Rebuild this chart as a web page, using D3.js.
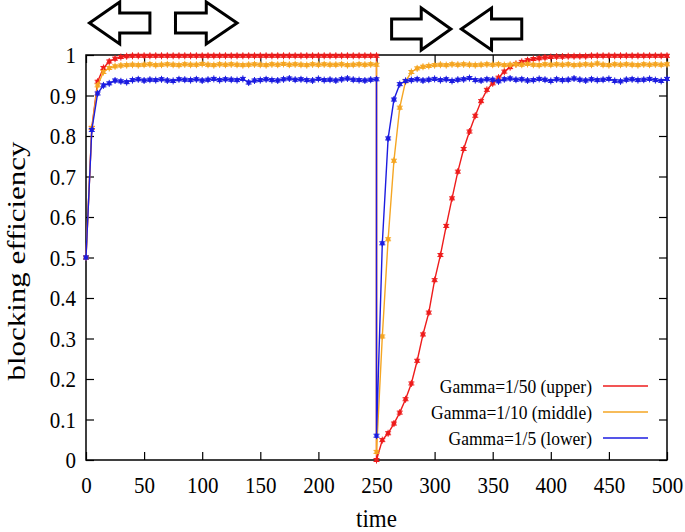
<html>
<head>
    <title>blocking efficiency</title>
    <script src="https://d3js.org/d3.v7.min.js"></script>
    <style>
        body { margin: 0; background: #fff; }
        text { font-family: "Liberation Serif", "DejaVu Serif", serif; fill: #000; }
    </style>
</head>
<body>
    <svg id="chart"></svg>
    <script>
        // sampled every 5 time units; the switch at t=250 is sampled twice (before / after)
        var timeA = d3.range(0, 251, 5);
        var timeB = d3.range(250, 501, 5);

        var redA = [0.5, 0.82, 0.934, 0.968, 0.984, 0.991, 0.995, 0.997, 0.998, 0.998,
            0.998, 0.998, 0.998, 0.998, 0.998, 0.998, 0.998, 0.998, 0.998, 0.998,
            0.998, 0.998, 0.998, 0.998, 0.998, 0.998, 0.998, 0.998, 0.998, 0.998,
            0.998, 0.998, 0.998, 0.998, 0.998, 0.998, 0.998, 0.998, 0.998, 0.998,
            0.998, 0.998, 0.998, 0.998, 0.998, 0.998, 0.998, 0.998, 0.998, 0.998, 0.998];
        var redB = [0, 0.049, 0.066, 0.09, 0.117, 0.15, 0.189, 0.245, 0.31, 0.364,
            0.444, 0.506, 0.578, 0.646, 0.712, 0.768, 0.811, 0.85, 0.886, 0.914,
            0.93, 0.944, 0.959, 0.97, 0.978, 0.983, 0.987, 0.99, 0.992, 0.994,
            0.995, 0.996, 0.996, 0.997, 0.997, 0.997, 0.997, 0.998, 0.998, 0.998,
            0.998, 0.998, 0.998, 0.998, 0.998, 0.998, 0.998, 0.998, 0.998, 0.998, 0.998];

        var orangeA = [0.5, 0.82, 0.925, 0.958, 0.968, 0.972, 0.974, 0.975, 0.976, 0.975,
            0.976, 0.977, 0.975, 0.976, 0.977, 0.976, 0.975, 0.977, 0.976, 0.976,
            0.978, 0.976, 0.975, 0.977, 0.976, 0.977, 0.976, 0.975, 0.976, 0.977,
            0.976, 0.975, 0.977, 0.976, 0.978, 0.976, 0.977, 0.976, 0.975, 0.977,
            0.976, 0.977, 0.976, 0.976, 0.977, 0.975, 0.976, 0.977, 0.976, 0.977, 0.976];
        var orangeB = [0.02, 0.305, 0.545, 0.739, 0.87, 0.935, 0.958, 0.967, 0.971, 0.973,
            0.975, 0.976, 0.975, 0.977, 0.976, 0.977, 0.976, 0.975, 0.976, 0.977,
            0.976, 0.977, 0.975, 0.976, 0.977, 0.976, 0.978, 0.976, 0.975, 0.977,
            0.976, 0.977, 0.976, 0.977, 0.975, 0.976, 0.977, 0.976, 0.979, 0.976,
            0.975, 0.977, 0.976, 0.977, 0.976, 0.975, 0.977, 0.976, 0.977, 0.976, 0.977];

        var blueA = [0.5, 0.815, 0.905, 0.925, 0.93, 0.937, 0.935, 0.933, 0.938, 0.94,
            0.937, 0.939, 0.938, 0.94, 0.937, 0.936, 0.94, 0.939, 0.938, 0.94,
            0.937, 0.939, 0.941, 0.938, 0.94, 0.939, 0.938, 0.941, 0.932, 0.937,
            0.938, 0.94, 0.938, 0.937, 0.94, 0.942, 0.939, 0.94, 0.938, 0.937,
            0.941, 0.938, 0.939, 0.937, 0.94, 0.942, 0.939, 0.938, 0.937, 0.939, 0.94];
        var blueB = [0.06, 0.535, 0.794, 0.89, 0.928, 0.936, 0.938, 0.94, 0.937, 0.939,
            0.941, 0.938, 0.94, 0.936, 0.939, 0.94, 0.943, 0.938, 0.937, 0.94,
            0.939, 0.935, 0.94, 0.942, 0.939, 0.94, 0.937, 0.938, 0.941, 0.939,
            0.936, 0.94, 0.938, 0.939, 0.942, 0.939, 0.937, 0.94, 0.938, 0.939,
            0.941, 0.936, 0.935, 0.939, 0.94, 0.938, 0.939, 0.941, 0.938, 0.936, 0.941];

        var seriesNames = ["Gamma=1/50 (upper)", "Gamma=1/10 (middle)", "Gamma=1/5 (lower)"];
        var seriesColors = ["#ee1c1c", "#f5a623", "#1c1ce0"];
        var xTicks = [0, 50, 100, 150, 200, 250, 300, 350, 400, 450, 500];
        var yTicks = [0, 0.1, 0.2, 0.3, 0.4, 0.5, 0.6, 0.7, 0.8, 0.9, 1];
        // arrow annotations: [tail time, tip time]
        var arrows = [[55, 3], [77, 130], [263, 314], [375, 323]];

        var W = 685, H = 532;
        var margin = {left: 86, right: 18, top: 55, bottom: 72};
        var width = W - margin.left - margin.right;
        var height = H - margin.top - margin.bottom;
        var stretch = 1.13; // the lettering in the picture is a bit taller than wide

        var x = d3.scaleLinear().domain([0, 500]).range([0, width]);
        var y = d3.scaleLinear().domain([0, 1]).range([height, 0]);

        function join(ta, va, tb, vb) {
            var out = [];
            ta.forEach(function (t, i) { if (va[i] != null) out.push({t: t, v: va[i]}); });
            tb.forEach(function (t, i) { if (vb[i] != null) out.push({t: t, v: vb[i]}); });
            return out;
        }
        var series = [join(timeA, redA, timeB, redB),
                      join(timeA, orangeA, timeB, orangeB),
                      join(timeA, blueA, timeB, blueB)];

        var svg = d3.select("#chart").attr("width", W).attr("height", H);
        var g = svg.append("g").attr("transform", "translate(" + margin.left + "," + margin.top + ")");

        // axes (gnuplot style: inward ticks, mirrored)
        var tickLen = 8;
        var xAxis = g.append("g").attr("transform", "translate(0," + height + ")")
            .call(d3.axisBottom(x).tickValues(xTicks).tickSize(-tickLen).tickFormat(d3.format("d")));
        g.append("g")
            .call(d3.axisTop(x).tickValues(xTicks).tickSize(-tickLen).tickFormat(""));
        var yAxis = g.append("g")
            .call(d3.axisLeft(y).tickValues(yTicks).tickSize(-tickLen).tickPadding(10)
                .tickFormat(function (d) { return String(+d.toFixed(1)); }));
        g.append("g").attr("transform", "translate(" + width + ",0)")
            .call(d3.axisRight(y).tickValues(yTicks).tickSize(-tickLen).tickFormat(""));
        g.selectAll(".domain").remove();
        g.selectAll(".tick line").attr("stroke", "#000").attr("stroke-width", 1.2);
        g.selectAll(".tick text").style("font-size", "21px").style("font-family", "Liberation Serif");
        xAxis.selectAll(".tick text").attr("y", 0)
            .attr("transform", "translate(0,16) scale(1," + stretch + ")");
        yAxis.selectAll(".tick text").attr("transform", "scale(1," + stretch + ")");

        g.append("rect").attr("width", width).attr("height", height)
            .attr("fill", "none").attr("stroke", "#000").attr("stroke-width", 1.5);

        var line = d3.line().x(function (d) { return x(d.t); }).y(function (d) { return y(d.v); });

        series.forEach(function (data, k) {
            var col = seriesColors[k];
            var sg = g.append("g");
            sg.append("path").datum(data).attr("d", line)
                .attr("fill", "none").attr("stroke", col).attr("stroke-width", 1.4);
            var pts = sg.selectAll("g.pt").data(data).enter().append("g")
                .attr("transform", function (d) { return "translate(" + x(d.t) + "," + y(d.v) + ")"; });
            pts.append("circle").attr("r", 2.2).attr("fill", col);
            pts.append("path").attr("d", "M-3,-1.5H3M-3,1.5H3M0,-3.5V3.5")
                .attr("stroke", col).attr("stroke-width", 1);
        });

        // legend
        var leg = g.append("g");
        seriesNames.forEach(function (name, k) {
            var ly = 331 + k * 26;
            leg.append("text").attr("text-anchor", "end").attr("dy", "0.35em")
                .attr("transform", "translate(506," + ly + ") scale(1," + stretch + ")")
                .style("font-size", "17.5px").text(name);
            leg.append("line").attr("x1", 517).attr("x2", 562).attr("y1", ly).attr("y2", ly)
                .attr("stroke", seriesColors[k]).attr("stroke-width", 1.4);
        });

        // axis titles
        svg.append("text").attr("text-anchor", "middle")
            .attr("transform", "translate(" + (margin.left + width / 2) + ",527) scale(1," + stretch + ")")
            .style("font-size", "23px").text("time");
        svg.append("text").attr("transform", "translate(25,261) rotate(-90) scale(1.19,1)")
            .attr("text-anchor", "middle")
            .style("font-size", "26px").text("blocking efficiency");

        // outline arrows above the plot
        function arrowPath(x0, x1, cy) {
            var dir = x1 > x0 ? 1 : -1;
            var len = Math.abs(x1 - x0);
            var hb = x1 - dir * len * 0.5; // head base
            var bh = 10, hh = 21;
            return "M" + x0 + "," + (cy - bh) + "L" + hb + "," + (cy - bh) + "L" + hb + "," + (cy - hh) +
                "L" + x1 + "," + cy + "L" + hb + "," + (cy + hh) + "L" + hb + "," + (cy + bh) +
                "L" + x0 + "," + (cy + bh) + "Z";
        }
        arrows.forEach(function (a, i) {
            var cy = i < 2 ? 23 : 29;
            svg.append("path").attr("d", arrowPath(margin.left + x(a[0]), margin.left + x(a[1]), cy))
                .attr("fill", "#fff").attr("stroke", "#000").attr("stroke-width", 3)
                .attr("stroke-linejoin", "miter");
        });
    </script>
</body>
</html>
